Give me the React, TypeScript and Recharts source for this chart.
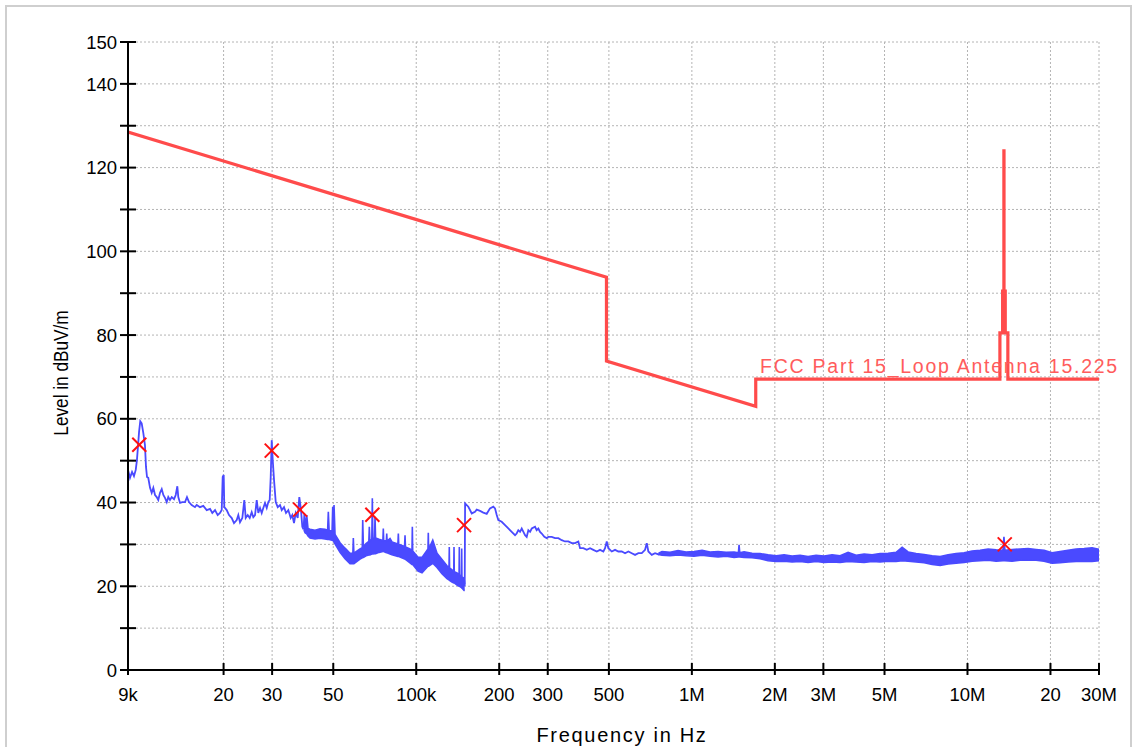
import React from 'react';
import { ComposedChart, Line, Area, Scatter, XAxis, YAxis, CartesianGrid, ReferenceDot } from 'recharts';

const FONT = "'Liberation Sans', Arial, sans-serif";

// Axis ticks
const xTicks = [9e3, 2e4, 3e4, 5e4, 1e5, 2e5, 3e5, 5e5, 1e6, 2e6, 3e6, 5e6, 1e7, 2e7, 3e7];
const xTickLabels = ['9k', '20', '30', '50', '100k', '200', '300', '500', '1M', '2M', '3M', '5M', '10M', '20', '30M'];
const yTicks = [0, 10, 20, 30, 40, 50, 60, 70, 80, 90, 100, 110, 120, 130, 140, 150];
const yLabelled = [0, 20, 40, 60, 80, 100, 120, 140, 150];

// Limit line: FCC Part 15 Loop Antenna 15.225 (Hz, dBuV/m)
const limitF = [9000, 490000, 490000, 1705000, 1705000, 13110000, 13110000, 13410000, 13410000, 13553000, 13553000, 13567000, 13567000, 13710000, 13710000, 14010000, 14010000, 30000000];
const limitL = [128.5, 93.8, 73.8, 63.0, 69.5, 69.5, 80.5, 80.5, 90.5, 90.5, 124.0, 124.0, 90.5, 90.5, 80.5, 80.5, 69.5, 69.5];

// Measured trace, 9 kHz - 39 kHz (kHz, dBuV/m)
const traceAF = [9.00, 9.15, 9.31, 9.46, 9.60, 9.70, 9.87, 9.97, 10.09, 10.23, 10.37, 10.46, 10.55, 10.66, 10.82, 10.97, 11.12, 11.28, 11.44, 11.59, 11.76, 11.93, 12.09, 12.26, 12.44, 12.60, 12.78, 12.97, 13.22, 13.41, 13.59, 13.70, 13.90, 14.17, 14.49, 14.73, 14.98, 15.32, 15.75, 15.98, 16.42, 16.88, 17.37, 17.86, 18.20, 18.62, 19.04, 19.41, 19.69, 19.85, 20.02, 20.12, 20.53, 20.93, 21.41, 21.82, 22.32, 22.62, 22.94, 23.39, 23.78, 24.06, 24.47, 24.88, 25.30, 25.64, 26.01, 26.38, 26.73, 27.12, 27.50, 27.87, 28.27, 28.68, 29.06, 29.40, 29.65, 29.90, 30.15, 30.48, 30.92, 31.44, 32.05, 32.51, 33.14, 33.69, 34.35, 35.04, 35.51, 36.02, 36.54, 37.15, 37.65, 38.19, 38.61, 39.00];
const traceAL = [47.8, 45.9, 47.3, 46.3, 47.8, 50.2, 56.8, 59.4, 58.9, 56.6, 53.7, 48.5, 46.1, 45.9, 43.5, 42.3, 43.5, 41.8, 41.3, 40.6, 42.3, 43.2, 41.8, 41.1, 40.1, 41.3, 40.6, 41.3, 40.8, 41.8, 43.9, 41.3, 39.9, 40.1, 40.1, 41.3, 40.1, 39.4, 38.9, 39.4, 38.9, 39.2, 38.2, 38.5, 37.5, 38.2, 37.0, 37.5, 38.2, 46.1, 46.6, 38.9, 38.2, 37.0, 36.3, 35.1, 35.8, 37.0, 35.3, 36.3, 40.6, 36.3, 37.0, 36.3, 37.7, 36.5, 37.0, 40.6, 37.5, 38.7, 37.5, 38.7, 39.9, 38.7, 40.1, 40.6, 46.1, 54.9, 50.2, 45.4, 40.1, 38.9, 39.4, 38.2, 38.9, 37.5, 38.2, 36.3, 37.0, 35.1, 37.5, 36.3, 41.3, 38.2, 34.2, 33.6];

// Measured trace envelope, 39 kHz - 150 kHz (kHz, low, high)
const traceBF = [39.00, 39.26, 39.49, 40.06, 40.49, 41.18, 42.93, 44.76, 46.67, 47.70, 47.98, 48.30, 49.50, 49.77, 50.00, 50.32, 50.74, 52.90, 55.16, 57.51, 58.90, 59.12, 59.40, 62.52, 63.70, 63.95, 64.30, 65.74, 67.30, 67.57, 67.90, 69.00, 69.29, 69.60, 70.60, 70.87, 71.20, 73.28, 75.70, 75.95, 76.20, 77.90, 78.15, 78.40, 80.33, 81.68, 85.80, 86.11, 86.40, 87.32, 90.70, 91.06, 91.40, 94.94, 96.50, 96.79, 97.10, 101.5, 104.95, 110.3, 110.6, 110.9, 114.8, 118.96, 124.0, 129.3, 131.5, 131.8, 132.1, 134.8, 136.8, 137.1, 137.4, 140.6, 143.0, 143.3, 143.6, 145.9, 146.2, 146.5, 149.1, 149.9];
const traceBLo = [33.3, 33.3, 32.8, 32.5, 32.0, 31.5, 31.3, 31.5, 31.3, 31.2, 31.2, 31.2, 31.0, 31.0, 30.8, 30.6, 30.1, 28.1, 26.6, 25.4, 25.4, 25.4, 25.4, 26.5, 26.8, 26.9, 26.9, 27.3, 27.5, 27.5, 27.5, 27.7, 27.7, 27.7, 27.8, 27.8, 27.8, 28.1, 28.3, 28.3, 28.3, 28.0, 28.0, 28.0, 27.7, 27.5, 27.1, 27.1, 27.1, 27.0, 26.5, 26.5, 26.4, 25.6, 25.2, 25.2, 25.2, 23.6, 23.2, 24.8, 24.8, 24.8, 25.5, 24.5, 23.0, 21.8, 21.5, 21.5, 21.4, 21.0, 20.8, 20.8, 20.8, 20.3, 20.0, 20.0, 20.0, 19.7, 19.6, 19.6, 19.0, 19.0];
const traceBHi = [34.0, 37.4, 34.2, 37.0, 33.8, 33.6, 33.4, 33.7, 33.6, 33.4, 37.8, 33.3, 33.2, 39.0, 33.0, 39.4, 32.4, 30.4, 29.1, 27.9, 27.9, 31.5, 27.9, 28.9, 29.2, 35.8, 29.4, 30.2, 30.7, 34.2, 30.9, 31.2, 41.0, 31.4, 31.5, 36.6, 31.5, 31.2, 30.9, 33.8, 30.9, 30.8, 32.6, 30.8, 31.4, 30.6, 30.1, 32.6, 30.0, 29.9, 29.5, 32.2, 29.4, 28.9, 28.5, 34.2, 28.4, 26.9, 26.9, 28.9, 32.8, 28.9, 31.0, 27.9, 26.4, 24.9, 24.5, 29.4, 24.4, 23.9, 23.5, 29.4, 23.5, 23.2, 22.7, 29.4, 22.7, 22.3, 29.0, 22.2, 21.9, 20.5];

// Measured trace, 150 kHz - 780 kHz (kHz, dBuV/m)
const traceCF = [149.9, 150.4, 154.5, 159.0, 163.4, 165.7, 170.4, 175.1, 180.2, 185.2, 190.4, 193.1, 195.9, 198.5, 204.2, 210.0, 215.8, 222.0, 228.3, 231.4, 234.6, 238.0, 241.4, 244.8, 248.2, 251.6, 255.1, 258.8, 262.5, 269.8, 273.5, 277.3, 281.3, 285.3, 291.6, 297.5, 301.5, 310.2, 318.8, 327.8, 337.2, 346.6, 356.3, 366.6, 376.9, 387.4, 392.9, 403.9, 415.6, 427.2, 439.1, 451.8, 464.4, 477.4, 484.2, 491.1, 497.8, 512.1, 526.4, 541.1, 556.7, 572.3, 588.3, 605.3, 622.2, 639.6, 658.1, 676.4, 686.1, 695.3, 715.4, 735.4, 757.0, 779.6];
const traceCL = [20.0, 39.8, 39.0, 37.4, 37.8, 38.3, 38.0, 37.6, 37.3, 38.6, 39.0, 38.6, 37.0, 35.8, 35.4, 34.6, 33.8, 33.0, 32.2, 32.6, 33.4, 33.0, 33.8, 33.0, 32.2, 31.8, 33.4, 33.0, 33.8, 34.2, 33.4, 33.8, 33.0, 32.6, 31.8, 31.5, 31.8, 31.8, 31.5, 31.5, 31.0, 30.7, 30.7, 30.3, 30.3, 30.7, 29.1, 29.1, 28.7, 29.1, 28.7, 28.3, 28.7, 28.3, 29.1, 30.7, 29.1, 28.3, 28.7, 28.3, 28.3, 27.9, 28.3, 27.9, 27.5, 27.9, 27.9, 28.7, 30.3, 28.3, 27.5, 27.9, 27.6, 28.0];

// Measured trace envelope, 757 kHz - 30 MHz (kHz, low, high)
const traceDF = [757.0, 779.6, 833.3, 891.0, 952.6, 1018.5, 1088.9, 1164.2, 1244.7, 1330.7, 1422.8, 1475, 1483.5, 1492, 1546.7, 1653.7, 1768, 1890.2, 2021, 2160.7, 2310.1, 2469.8, 2640.5, 2823.1, 3018.3, 3227, 3450.1, 3688.7, 3943.7, 4216.4, 4507.8, 4819.5, 5152.8, 5509.1, 5792.3, 6090.2, 6511.1, 6961.1, 7442.6, 7957, 8507.2, 9090.6, 9719.1, 10391, 11110, 11877, 12699, 13450, 13560, 13670, 14512, 15515, 16588, 17735, 18962, 20273, 21673, 23171, 24774, 26488, 28319, 30000];
const traceDLo = [27.6, 27.4, 27.3, 27.5, 27.3, 27.2, 27.4, 27.2, 27.0, 27.2, 26.9, 27.0, 27.0, 27.0, 26.9, 26.8, 26.6, 26.1, 25.9, 26.0, 25.8, 25.9, 25.7, 25.9, 25.7, 25.8, 25.7, 25.9, 25.8, 25.7, 25.9, 25.8, 26.0, 25.9, 26.1, 26.0, 25.8, 25.6, 25.2, 25.0, 25.3, 25.5, 25.7, 26.0, 26.1, 26.2, 26.0, 26.1, 26.1, 26.1, 26.0, 26.2, 26.3, 26.2, 26.0, 25.5, 25.6, 25.8, 25.9, 26.0, 25.9, 26.1];
const traceDHi = [27.9, 28.3, 28.1, 28.5, 28.2, 28.3, 28.6, 28.2, 28.3, 28.1, 28.2, 28.0, 29.9, 28.0, 28.2, 27.9, 27.8, 27.5, 27.3, 27.5, 27.2, 27.4, 27.1, 27.4, 27.2, 27.5, 27.3, 28.1, 27.4, 27.7, 27.5, 27.8, 27.9, 28.1, 29.3, 28.2, 27.8, 27.6, 27.3, 27.1, 27.5, 27.8, 28.0, 28.4, 28.6, 28.9, 28.7, 28.6, 31.8, 28.6, 28.8, 28.9, 29.0, 28.8, 28.6, 28.0, 28.3, 28.6, 28.9, 29.0, 29.2, 28.8];

// Peak markers (kHz, dBuV/m)
const markerF = [9.89, 29.9, 37.9, 69.3, 149.1, 13650];
const markerL = [53.8, 52.4, 38.3, 37.1, 34.6, 30.0];

const limitRows = limitF.map((f, i) => ({ f, v: limitL[i] }));
const lineRows = (fs: number[], vs: number[]) => fs.map((f, i) => ({ f: f * 1000, v: vs[i] }));
const bandRows = (fs: number[], lo: number[], hi: number[]) => fs.map((f, i) => ({ f: f * 1000, band: [lo[i], hi[i]] }));
const rowsA = lineRows(traceAF, traceAL);
const rowsB = bandRows(traceBF, traceBLo, traceBHi);
const rowsC = lineRows(traceCF, traceCL);
const rowsD = bandRows(traceDF, traceDLo, traceDHi);
const markerRows = lineRows(markerF, markerL);

const BLUE = '#4a4aff';
const RED = '#ff4b4b';

const XTick = (props: any) => {
  const { x, y, payload } = props;
  const axisY = y - 8;
  const idx = xTicks.indexOf(payload.value);
  return (
    <g>
      <line x1={x} x2={x} y1={axisY - 7} y2={axisY + 5} stroke="#000" strokeWidth={2} />
      <text x={x} y={axisY + 31} textAnchor="middle" fontSize={18.5} fontFamily={FONT} fill="#000">
        {idx >= 0 ? xTickLabels[idx] : ''}
      </text>
    </g>
  );
};

const YTick = (props: any) => {
  const { x, y, payload } = props;
  const axisX = x + 11;
  const show = yLabelled.indexOf(payload.value) >= 0;
  return (
    <g>
      <line x1={axisX - 8} x2={axisX + 8} y1={y} y2={y} stroke="#000" strokeWidth={2} />
      {show && (
        <text x={axisX - 11} y={y} dy="0.36em" textAnchor="end" fontSize={18.5} fontFamily={FONT} fill="#000">
          {payload.value}
        </text>
      )}
    </g>
  );
};

const CrossMark = (props: any) => {
  const { cx, cy } = props;
  const s = 7;
  return (
    <g>
      <line x1={cx - s} y1={cy - s} x2={cx + s} y2={cy + s} stroke="#ff1010" strokeWidth={2} />
      <line x1={cx - s} y1={cy + s} x2={cx + s} y2={cy - s} stroke="#ff1010" strokeWidth={2} />
    </g>
  );
};

export default function App() {
  return (
    <div style={{ position: 'absolute', left: 0, top: 0, width: 1139, height: 747, overflow: 'hidden', background: '#fff' }}>
      <div style={{ position: 'absolute', left: 5, top: 5, width: 1127, height: 800, border: '2px solid #cfcfcf', boxSizing: 'border-box' }} />
      <div style={{ position: 'absolute', left: 0, top: 0 }}>
        <ComposedChart width={1139} height={747} margin={{ top: 42, right: 40, bottom: 37, left: 28 }}>
          <CartesianGrid stroke="#b4b4b4" strokeDasharray="2 2" strokeWidth={1} />
          <XAxis
            dataKey="f"
            type="number"
            scale="log"
            domain={[9000, 30000000]}
            allowDataOverflow
            ticks={xTicks}
            interval={0}
            height={40}
            tickSize={5}
            tickMargin={3}
            tickLine={false}
            axisLine={{ stroke: '#000', strokeWidth: 2 }}
            tick={<XTick />}
            label={(p: any) => {
              const vb = p.viewBox || {};
              const cx = vb.x + vb.width / 2 + 8.5;
              return (
                <text x={cx} y={742} textAnchor="middle" fontSize={20} letterSpacing={1.7} fontFamily={FONT} fill="#000">
                  Frequency in Hz
                </text>
              );
            }}
          />
          <YAxis
            type="number"
            domain={[0, 150]}
            allowDataOverflow
            ticks={yTicks}
            interval={0}
            width={100}
            tickSize={8}
            tickMargin={3}
            tickLine={false}
            axisLine={{ stroke: '#000', strokeWidth: 2 }}
            tick={<YTick />}
            label={(p: any) => {
              const vb = p.viewBox || {};
              const cx = vb.x + 39.5;
              const cy = vb.y + vb.height / 2 + 17;
              return (
                <text transform={`translate(${cx},${cy}) rotate(-90) scale(0.82,1)`} x={0} y={0} textAnchor="middle" fontSize={21} fontFamily={FONT} fill="#000">
                  Level in dBuV/m
                </text>
              );
            }}
          />
          <Line data={limitRows} dataKey="v" type="linear" stroke={RED} strokeWidth={3.2} dot={false} activeDot={false} isAnimationActive={false} />
          <Line data={rowsA} dataKey="v" type="linear" stroke={BLUE} strokeWidth={1.8} dot={false} activeDot={false} isAnimationActive={false} />
          <Area data={rowsB} dataKey="band" type="linear" stroke={BLUE} strokeWidth={1.6} fill={BLUE} fillOpacity={1} dot={false} activeDot={false} isAnimationActive={false} />
          <Line data={rowsC} dataKey="v" type="linear" stroke={BLUE} strokeWidth={1.8} dot={false} activeDot={false} isAnimationActive={false} />
          <Area data={rowsD} dataKey="band" type="linear" stroke={BLUE} strokeWidth={1.6} fill={BLUE} fillOpacity={1} dot={false} activeDot={false} isAnimationActive={false} />
          <Scatter data={markerRows} dataKey="v" shape={<CrossMark />} isAnimationActive={false} />
          <ReferenceDot
            x={1768000}
            y={70.9}
            r={0.01}
            fill="none"
            stroke="none"
            ifOverflow="visible"
            label={(p: any) => {
              const vb = p.viewBox || {};
              return (
                <text x={vb.x} y={vb.y} textAnchor="start" fontSize={19.5} letterSpacing={1.75} fontFamily={FONT} fill="#ff5c5c">
                  FCC Part 15_Loop Antenna 15.225
                </text>
              );
            }}
          />
        </ComposedChart>
      </div>
    </div>
  );
}
